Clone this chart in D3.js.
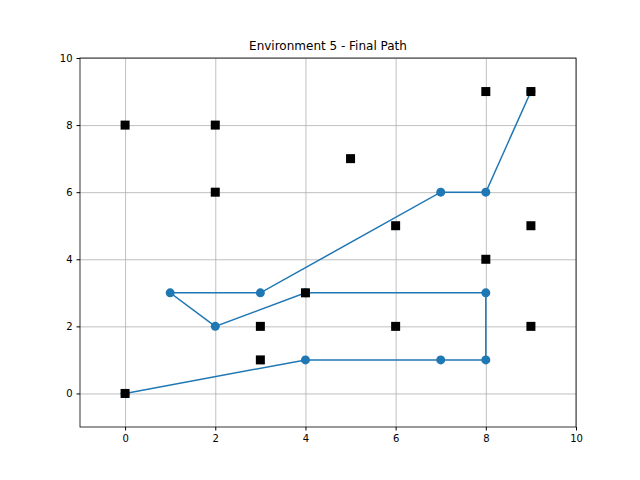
<!DOCTYPE html>
<html>
<head>
<meta charset="utf-8">
<script src="https://cdn.jsdelivr.net/npm/d3@7"></script>
<style>
  body { margin: 0; background: #fff; }
  text { font-family: "DejaVu Sans", sans-serif; }
  .grid line { stroke: #b0b0b0; stroke-width: 0.8; }
  .grid path { display: none; }
</style>
</head>
<body>
<svg id="chart" width="640" height="480"></svg>
<script>
const pathX = [0, 4, 7, 8, 8, 4, 2, 1, 3, 7, 8, 9];
const pathY = [0, 1, 1, 1, 3, 3, 2, 3, 3, 6, 6, 9];
const obstacleX = [0, 2, 2, 5, 8, 9, 6, 9, 8, 4, 3, 6, 9, 3, 0];
const obstacleY = [8, 8, 6, 7, 9, 9, 5, 5, 4, 3, 2, 2, 2, 1, 0];
const ticks = [0, 2, 4, 6, 8, 10];

const svg = d3.select("#chart");
const plotLeft = 80, plotRight = 576, plotTop = 58, plotBottom = 427;

const x = d3.scaleLinear().domain([-1, 10]).range([plotLeft, plotRight]);
const y = d3.scaleLinear().domain([-1, 10]).range([plotBottom, plotTop]);

svg.append("g")
  .attr("class", "grid")
  .attr("transform", `translate(0, ${plotBottom})`)
  .call(d3.axisBottom(x).tickValues(ticks).tickSize(-(plotBottom - plotTop)).tickFormat(""));
svg.append("g")
  .attr("class", "grid")
  .attr("transform", `translate(${plotLeft}, 0)`)
  .call(d3.axisLeft(y).tickValues(ticks).tickSize(-(plotRight - plotLeft)).tickFormat(""));

const path = pathX.map((v, i) => [v, pathY[i]]);
svg.append("path")
  .datum(path)
  .attr("fill", "none")
  .attr("stroke", "#1f77b4")
  .attr("stroke-width", 1.5)
  .attr("d", d3.line().x(d => x(d[0])).y(d => y(d[1])));

svg.selectAll(".pt").data(path).enter().append("circle")
  .attr("cx", d => x(d[0]))
  .attr("cy", d => y(d[1]))
  .attr("r", 4.5)
  .attr("fill", "#1f77b4");

svg.selectAll(".obs").data(obstacleX).enter().append("rect")
  .attr("x", d => x(d) - 4.5)
  .attr("y", (d, i) => y(obstacleY[i]) - 4.5)
  .attr("width", 9)
  .attr("height", 9)
  .attr("fill", "#000");

const xAxis = svg.append("g")
  .attr("transform", `translate(0, ${plotBottom})`)
  .call(d3.axisBottom(x).tickValues(ticks).tickSize(3.5).tickPadding(4));
const yAxis = svg.append("g")
  .attr("transform", `translate(${plotLeft}, 0)`)
  .call(d3.axisLeft(y).tickValues(ticks).tickSize(3.5).tickPadding(4));
[xAxis, yAxis].forEach(a => {
  a.select(".domain").remove();
  a.selectAll("text").attr("font-size", 10).attr("fill", "#000").style("font-family", "DejaVu Sans");
  a.selectAll("line").attr("stroke", "#000");
});

svg.append("rect")
  .attr("x", plotLeft).attr("y", plotTop)
  .attr("width", plotRight - plotLeft).attr("height", plotBottom - plotTop)
  .attr("fill", "none").attr("stroke", "#000").attr("stroke-width", 0.8);

svg.append("text")
  .attr("x", (plotLeft + plotRight) / 2)
  .attr("y", plotTop - 8)
  .attr("text-anchor", "middle")
  .attr("font-size", 12)
  .text("Environment 5 - Final Path");
</script>
</body>
</html>
